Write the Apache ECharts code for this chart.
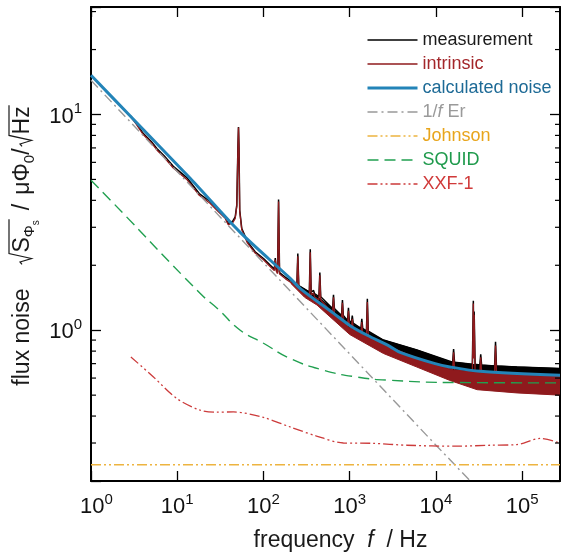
<!DOCTYPE html>
<html>
<head>
<meta charset="utf-8">
<script src="https://cdn.jsdelivr.net/npm/echarts@6.0.0/dist/echarts.min.js"></script>
<style>
  html, body { margin: 0; padding: 0; background: #fff; }
  #chart { width: 561px; height: 559px; }
</style>
</head>
<body>
<div id="chart"></div>
<script>
const FONT = '"Liberation Sans", Arial, Helvetica, sans-serif';

// Flux noise spectra: frequency in Hz, noise in µΦ0/√Hz
const measFreq = [2.85, 3.3, 4, 5, 5.8, 7, 9, 12.9, 18, 24, 30, 36, 39, 44, 47, 49, 50.5, 51.3, 52, 53, 56, 65, 80, 100, 120,
  133.5, 137, 140.5, 145.5, 149.5, 153.5, 180, 210, 243.5, 250, 256.5, 300, 340, 348.5, 357, 371, 380.5, 390, 439, 450, 461,
  632, 648, 664, 803, 823, 843, 943, 966, 989, 1044, 1070, 1096, 1346, 1380, 1414, 1561, 1600, 1640, 2460, 6000,
  15600, 16000, 16400, 26400, 27100, 27400, 27700, 28400, 32200, 33000, 33800, 47800, 49000, 50200, 87000, 274000];
const measValue = [9.9, 9.2, 8.2, 7.5, 6.95, 6.45, 5.75, 5.1, 4.3, 3.95, 3.6, 3.35, 3.12, 3.2, 3.35, 3.8, 7.0, 8.76, 7.0, 3.6, 2.96, 2.58, 2.31, 2.15, 2.0,
  1.92, 2.16, 1.91, 1.86, 4.04, 1.85, 1.76, 1.69, 1.61, 2.27, 1.61, 1.55, 1.5, 2.37, 1.5, 1.48, 1.53, 1.48, 1.43, 1.85, 1.43,
  1.26, 1.46, 1.26, 1.17, 1.38, 1.17, 1.11, 1.27, 1.11, 1.08, 1.17, 1.08, 1.02, 1.13, 1.02, 0.99, 1.40, 0.99, 0.90, 0.81,
  0.71, 0.817, 0.71, 0.695, 1.37, 0.80, 1.22, 0.695, 0.69, 0.774, 0.69, 0.683, 0.883, 0.683, 0.676, 0.664];
const intrValue = [9.8, 9.1, 8.1, 7.4, 6.85, 6.35, 5.65, 5.0, 4.22, 3.88, 3.54, 3.3, 3.08, 3.15, 3.3, 3.75, 6.9, 8.7, 6.9, 3.55, 2.92, 2.54, 2.28, 2.12, 1.97,
  1.89, 2.12, 1.88, 1.83, 3.95, 1.82, 1.73, 1.66, 1.58, 2.2, 1.58, 1.5, 1.45, 2.3, 1.45, 1.43, 1.49, 1.43, 1.38, 1.8, 1.38,
  1.2, 1.42, 1.2, 1.11, 1.34, 1.11, 1.04, 1.23, 1.04, 1.01, 1.13, 1.01, 0.95, 1.09, 0.95, 0.93, 1.35, 0.93, 0.86, 0.74,
  0.655, 0.79, 0.655, 0.64, 1.33, 0.74, 1.18, 0.64, 0.635, 0.75, 0.635, 0.628, 0.85, 0.628, 0.62, 0.61];

// Spread of the high-frequency noise floor
const bandFreq = [210, 300, 415, 1000, 2460, 6000, 14500, 30000, 87000, 274000];
const measUpper = [1.69, 1.55, 1.44, 1.09, 0.90, 0.81, 0.715, 0.69, 0.676, 0.664];
const measLower = [1.67, 1.47, 1.34, 0.99, 0.83, 0.72, 0.64, 0.61, 0.60, 0.59];
const intrUpper = [1.66, 1.50, 1.38, 1.02, 0.86, 0.74, 0.655, 0.635, 0.62, 0.61];
const intrLower = [1.64, 1.42, 1.31, 0.955, 0.78, 0.675, 0.585, 0.53, 0.512, 0.50];

// Model contributions
const calcFreq = [1, 2.85, 14.2, 18.5, 53.7, 204, 267, 646, 1010, 1578, 2940, 3840, 9770, 14500, 32500, 274000];
const calcValue = [15.2, 9.84, 5.05, 4.5, 2.84, 1.74, 1.56, 1.2, 1.05, 0.95, 0.84, 0.79, 0.70, 0.676, 0.645, 0.618];
const erFreq = [1, 10000, 25000];
const erValue = [14.4, 0.293, 0.2];
const johnsonFreq = [1, 274000];
const johnsonValue = [0.238, 0.238];
const squidFreq = [1, 1.83, 18.5, 30, 53.7, 100, 204, 496, 1200, 2940, 17400, 274000];
const squidValue = [4.96, 3.87, 1.48, 1.25, 1.0, 0.87, 0.739, 0.653, 0.607, 0.586, 0.572, 0.570];
const xxfFreq = [2.9, 5.3, 9.9, 18.5, 28.8, 44.9, 100, 204, 413, 845, 1870, 4570, 17400, 42500, 87000, 160000, 274000];
const xxfValue = [0.752, 0.607, 0.482, 0.426, 0.417, 0.418, 0.394, 0.356, 0.323, 0.300, 0.299, 0.293, 0.290, 0.293, 0.295, 0.315, 0.300];

// Axis ranges and minor tick positions
const xRange = [1, 274000];
const yRange = [0.2, 31.5];
const yMinorTicks = [0.3, 0.4, 0.5, 0.6, 0.7, 0.8, 0.9, 2, 3, 4, 5, 6, 7, 8, 9, 20, 30];

const pairs = (xs, ys) => xs.map((x, i) => [x, ys[i]]);

const supRich = {
  b: { fontSize: 22, fontFamily: FONT, color: '#111', lineHeight: 26, verticalAlign: 'bottom' },
  s: { fontSize: 15, fontFamily: FONT, color: '#111', lineHeight: 13, verticalAlign: 'top' },
  p: { width: 11 }
};
function decadeLabel(v, padFirst) {
  const e = Math.log10(v);
  const r = Math.round(e);
  if (Math.abs(e - r) > 1e-6) return '';
  return (padFirst && r === 0 ? '{p|}' : '') + '{b|10}{s|' + r + '}';
}

const axisLineStyle = { show: true, onZero: false, lineStyle: { color: '#000', width: 2 } };
const tickStyle = { show: true, inside: true, length: 10, lineStyle: { color: '#000', width: 1.3 } };

function bandSeries(name, upper, lower, color, z) {
  return {
    type: 'custom', name: name, z: z, silent: true, clip: true,
    coordinateSystem: 'cartesian2d',
    data: bandFreq.map((f, i) => [f, upper[i], lower[i]]),
    encode: { x: 0, y: [1, 2] },
    renderItem: function (params, api) {
      if (params.dataIndex !== 0) return null;
      const pts = [];
      bandFreq.forEach((f, i) => pts.push(api.coord([f, upper[i]])));
      for (let i = bandFreq.length - 1; i >= 0; i--) pts.push(api.coord([bandFreq[i], lower[i]]));
      return { type: 'polygon', shape: { points: pts }, style: { fill: color, stroke: color, lineWidth: 1 } };
    }
  };
}

function lineSeries(name, data, color, width, type, z, smooth) {
  return {
    type: 'line', name: name, data: data, z: z, symbol: 'none', showSymbol: false,
    smooth: smooth || false, silent: true, clip: true,
    lineStyle: { color: color, width: width, type: type },
    itemStyle: { color: color }
  };
}

// Rotated y-axis title with radicals drawn as paths
function buildYTitle() {
  const ctx = document.createElement('canvas').getContext('2d');
  const col = '#1a1a1a';
  const kids = [];
  let c = 0;
  const txt = (t, size, dy, italic) => {
    ctx.font = (italic ? 'italic ' : '') + size + 'px ' + FONT;
    kids.push({
      type: 'text',
      style: {
        text: t, x: c, y: dy - 0.31 * size, fontSize: size, fontFamily: FONT,
        fontStyle: italic ? 'italic' : 'normal', fill: col, align: 'left', verticalAlign: 'middle'
      }
    });
    c += ctx.measureText(t).width;
  };
  const radical = (start, end) => {
    kids.push({
      type: 'polyline',
      shape: { points: [[start, -8], [start + 2.5, -10], [start + 6, 1.5], [start + 11, -21], [end, -21]] },
      style: { stroke: col, lineWidth: 1.2, fill: null }
    });
  };
  txt('flux noise', 23, 0);
  c += 24;
  const r1 = c;
  c += 12;
  txt('S', 23, 0);
  txt('Φ', 15, 5);
  txt('s', 10, 9);
  radical(r1, c + 1);
  c += 10;
  txt('/', 23, 0);
  c += 9;
  txt('μΦ', 23, 0);
  txt('0', 15, 5);
  txt('/', 23, 0);
  c += 2;
  const r2 = c;
  c += 12;
  txt('Hz', 23, 0);
  radical(r2, c + 1);
  return {
    type: 'group', rotation: Math.PI / 2, x: 30, y: 246 + c / 2,
    children: kids, silent: true
  };
}

const chart = echarts.init(document.getElementById('chart'), null, { renderer: 'canvas' });

chart.setOption({
  backgroundColor: '#fff',
  animation: false,
  grid: { left: 91, right: 1, top: 7, bottom: 78, containLabel: false, outerBoundsMode: 'none' },
  xAxis: [
    {
      type: 'log', logBase: 10, min: xRange[0], max: xRange[1], position: 'bottom',
      axisLine: axisLineStyle, axisTick: tickStyle, splitLine: { show: false },
      axisLabel: { margin: 11, formatter: v => decadeLabel(v, true), rich: supRich, hideOverlap: false },
      name: 'frequency  {i|f}  / Hz', nameLocation: 'middle', nameGap: 48,
      nameTextStyle: {
        fontSize: 23, fontFamily: FONT, color: '#1a1a1a', padding: [0, 0, 0, 30],
        rich: { i: { fontSize: 23, fontFamily: FONT, fontStyle: 'italic', color: '#1a1a1a' } }
      }
    },
    {
      type: 'log', logBase: 10, min: xRange[0], max: xRange[1], position: 'top',
      axisLine: axisLineStyle, axisTick: tickStyle, splitLine: { show: false }, axisLabel: { show: false }
    }
  ],
  yAxis: [
    {
      type: 'log', logBase: 10, min: yRange[0], max: yRange[1], position: 'left',
      axisLine: axisLineStyle, axisTick: tickStyle, splitLine: { show: false },
      axisLabel: { margin: 9, formatter: v => decadeLabel(v, false), rich: supRich }
    },
    {
      type: 'log', logBase: 10, min: yRange[0], max: yRange[1], position: 'right',
      axisLine: axisLineStyle, axisTick: tickStyle, splitLine: { show: false }, axisLabel: { show: false }
    }
  ],
  legend: {
    orient: 'vertical', left: 361, top: 26,
    itemWidth: 50, itemHeight: 14, itemGap: 6,
    itemStyle: { opacity: 0 },
    lineStyle: { width: 'inherit' },
    textStyle: {
      fontSize: 18, fontFamily: FONT, lineHeight: 18,
      rich: { i: { fontSize: 18, fontFamily: FONT, fontStyle: 'italic', color: '#9a9a9a' } }
    },
    formatter: n => (n === '1/f Er' ? '1/{i|f} Er' : n),
    selectedMode: false,
    data: [
      { name: 'measurement', textStyle: { color: '#1a1a1a' } },
      { name: 'intrinsic', textStyle: { color: '#a3262a' } },
      { name: 'calculated noise', textStyle: { color: '#1d6a96' } },
      { name: '1/f Er', textStyle: { color: '#9a9a9a' } },
      { name: 'Johnson', textStyle: { color: '#e8a51c' } },
      { name: 'SQUID', textStyle: { color: '#1f9a4c' } },
      { name: 'XXF-1', textStyle: { color: '#d03a3a' } }
    ]
  },
  graphic: [buildYTitle()],
  series: [
    bandSeries('measurement band', measUpper, measLower, '#000', 1),
    lineSeries('measurement', pairs(measFreq, measValue), '#000', 1.5, 'solid', 2),
    bandSeries('intrinsic band', intrUpper, intrLower, '#8f1a1d', 3),
    lineSeries('intrinsic', pairs(measFreq, intrValue), '#8f1a1d', 1.3, 'solid', 4),
    lineSeries('1/f Er', pairs(erFreq, erValue), '#999999', 1.4, [10, 4, 2, 4], 5),
    lineSeries('Johnson', pairs(johnsonFreq, johnsonValue), '#edb440', 1.6, [10, 3, 2, 3, 2, 3], 5),
    lineSeries('SQUID', pairs(squidFreq, squidValue), '#21a050', 1.4, [11, 6], 5, 0.5),
    lineSeries('XXF-1', pairs(xxfFreq, xxfValue), '#cc3a3a', 1.3, [10, 3, 2, 3, 2, 3], 5, 0.3),
    lineSeries('calculated noise', pairs(calcFreq, calcValue), '#2384b8', 3, 'solid', 6, 0.3),
    {
      type: 'custom', name: 'minor ticks', z: 10, silent: true, clip: false,
      coordinateSystem: 'cartesian2d',
      data: yMinorTicks.map(v => [xRange[0], v]),
      renderItem: function (params, api) {
        const y = api.coord([xRange[0], api.value(1)])[1];
        const cs = params.coordSys;
        const st = { stroke: '#000', lineWidth: 1.2 };
        return {
          type: 'group', children: [
            { type: 'line', shape: { x1: cs.x, y1: y, x2: cs.x + 5, y2: y }, style: st },
            { type: 'line', shape: { x1: cs.x + cs.width - 5, y1: y, x2: cs.x + cs.width, y2: y }, style: st }
          ]
        };
      }
    }
  ]
});
</script>
</body>
</html>
